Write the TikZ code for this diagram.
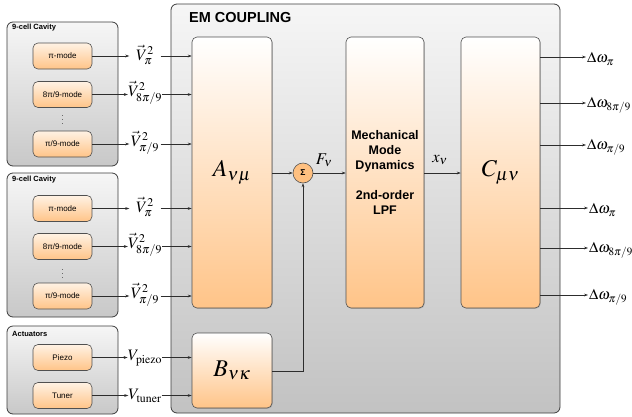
\documentclass[tikz,border=0pt]{standalone}
\usepackage{mathptmx}
\usepackage[no-math]{fontspec}
\setmainfont{Liberation Sans}
\usetikzlibrary{arrows.meta,shadows}
\definecolor{orgB}{RGB}{255,196,136}
\definecolor{modeT}{RGB}{255,242,228}
\definecolor{orgS}{RGB}{255,192,128}
\definecolor{grayT}{RGB}{246,246,246}
\definecolor{grayB}{RGB}{200,200,200}
\definecolor{emB}{RGB}{194,194,194}
\definecolor{boxline}{RGB}{60,60,60}
\definecolor{blkline}{RGB}{80,80,80}
\definecolor{lineC}{RGB}{45,45,45}
\begin{document}
\begin{tikzpicture}[x=1pt,y=-1pt,
  outerbox/.style={draw=boxline, rounded corners=6pt, top color=grayT, bottom color=grayB, line width=0.8pt, inner sep=0},
  blockbox/.style={draw=blkline, rounded corners=5pt, top color=white, bottom color=orgB, line width=0.6pt, inner sep=0,
     drop shadow={shadow xshift=0.8pt, shadow yshift=-0.8pt, opacity=0.35}},
  modebox/.style={draw=blkline, rounded corners=5pt, top color=modeT, bottom color=orgB, line width=0.6pt,
     minimum width=59pt, minimum height=26pt, inner sep=0, font=\fontsize{8}{9}\selectfont},
  boxtitle/.style={anchor=west, inner sep=0, font=\bfseries\fontsize{7.5}{8}\selectfont},
  lbl/.style={inner sep=0, minimum width=31pt, font=\fontsize{16}{17}\selectfont},
  olbl/.style={anchor=west, inner sep=1pt, font=\fontsize{15}{16}\selectfont},
  arr/.style={-{Stealth[length=4pt,width=2.8pt]}, draw=lineC, line width=0.6pt},
  dotsn/.style={inner sep=0, font=\fontsize{7}{7}\selectfont}
]
\useasboundingbox (0,0) rectangle (632,416);

% outer boxes
\node[outerbox, minimum width=111pt, minimum height=144pt] (cav1) at (62.5,94) {};
\node[boxtitle] (cav1t) at (12,28) {9-cell Cavity};
\node[outerbox, minimum width=111pt, minimum height=144pt] (cav2) at (62.5,245) {};
\node[boxtitle] (cav2t) at (12,180) {9-cell Cavity};
\node[outerbox, minimum width=111pt, minimum height=88pt] (act) at (62.5,370) {};
\node[boxtitle] (actt) at (12,334) {Actuators};
\node[outerbox, bottom color=emB, minimum width=389pt, minimum height=409pt] (em) at (365.5,208.5) {};
\node[anchor=west, inner sep=0, font=\bfseries\fontsize{14.5}{15}\selectfont] (emt) at (189,18) {EM COUPLING};

% mode boxes
\node[modebox] (m1) at (62.5,56) {π-mode};
\node[modebox] (m2) at (62.5,94.5) {8π/9-mode};
\node[dotsn] (d1) at (62.5,117) {$\vdots$};
\node[modebox] (m3) at (62.5,144) {π/9-mode};
\node[modebox] (m4) at (62.5,208.5) {π-mode};
\node[modebox] (m5) at (62.5,246.5) {8π/9-mode};
\node[dotsn] (d2) at (62.5,271) {$\vdots$};
\node[modebox] (m6) at (62.5,296) {π/9-mode};
\node[modebox] (pz) at (62.5,357.5) {Piezo};
\node[modebox] (tu) at (62.5,395.5) {Tuner};

% blocks
\node[blockbox, minimum width=80pt, minimum height=271pt, font=\fontsize{24}{26}\selectfont] (A) at (232,172.5) {$A_{\nu\mu}$};
\node[blockbox, minimum width=80pt, minimum height=75pt, font=\fontsize{24}{26}\selectfont] (B) at (232,370.5) {$B_{\nu\kappa}$};
\node[blockbox, minimum width=78pt, minimum height=271pt, align=center, font=\bfseries\fontsize{12.5}{15}\selectfont] (M) at (385,172.5) {Mechanical\\Mode\\Dynamics\\[15pt]2nd-order\\LPF};
\node[blockbox, minimum width=79pt, minimum height=271pt, font=\fontsize{24}{26}\selectfont] (C) at (500.5,172.5) {$C_{\mu\nu}$};
\node[circle, draw=blkline, line width=0.6pt, fill=orgS, minimum size=20pt, inner sep=0, font=\bfseries\fontsize{8.5}{8.5}\selectfont] (S) at (303,173) {Σ};

% input labels
\node[lbl] (v1) at (145,55) {$\vec{V}_{\pi}^{2}$};
\node[lbl] (v2) at (145,93) {$\vec{V}_{8\pi/9}^{2}$};
\node[lbl] (v3) at (145,143) {$\vec{V}_{\pi/9}^{2}$};
\node[lbl] (v4) at (145,207) {$\vec{V}_{\pi}^{2}$};
\node[lbl] (v5) at (145,245) {$\vec{V}_{8\pi/9}^{2}$};
\node[lbl] (v6) at (145,295) {$\vec{V}_{\pi/9}^{2}$};
\node[lbl] (vp) at (145,358) {$V_{\mathrm{piezo}}$};
\node[lbl] (vt) at (145,396) {$V_{\mathrm{tuner}}$};

\foreach \m/\v in {m1/v1,m2/v2,m3/v3,m4/v4,m5/v5,m6/v6}{
  \draw[arr] (\m.east) -- (\m.east -| \v.west);
  \draw[arr] (\m.east -| \v.east) -- (\m.east -| A.west);
}
\draw[arr] (pz.east) -- (pz.east -| vp.west);
\draw[arr] (pz.east -| vp.east) -- (pz.east -| B.west);
\draw[arr] (tu.east) -- (tu.east -| vt.west);
\draw[arr] (tu.east -| vt.east) -- (tu.east -| B.west);

% internal connections
\draw[arr] (A.east |- S.west) -- (S.west);
\draw[arr] (S.east) -- (S.east -| M.west);
\node[inner sep=0, font=\fontsize{16.5}{17}\selectfont] (F) at (324,160) {$F_{\nu}$};
\draw[arr] (M.east |- S.east) -- (S.east -| C.west);
\node[inner sep=0, font=\fontsize{16.5}{17}\selectfont] (X) at (440,160) {$x_{\nu}$};
\coordinate (bk) at (303,371);
\draw[arr] (B.east |- bk) -- (bk) -- (S.south);

% outputs
\node[olbl] (o1) at (586,59) {$\Delta\omega_{\pi}$};
\node[olbl] (o2) at (586,105) {$\Delta\omega_{8\pi/9}$};
\node[olbl] (o3) at (586,147) {$\Delta\omega_{\pi/9}$};
\node[olbl] (o4) at (588,210) {$\Delta\omega_{\pi}$};
\node[olbl] (o5) at (588,250) {$\Delta\omega_{8\pi/9}$};
\node[olbl] (o6) at (588,297) {$\Delta\omega_{\pi/9}$};
\foreach \o/\yy in {o1/57,o2/103,o3/145,o4/208,o5/248,o6/295}{
  \draw[arr] (C.east |- 0,\yy) -- (\o.west |- 0,\yy);
}
\end{tikzpicture}
\end{document}
